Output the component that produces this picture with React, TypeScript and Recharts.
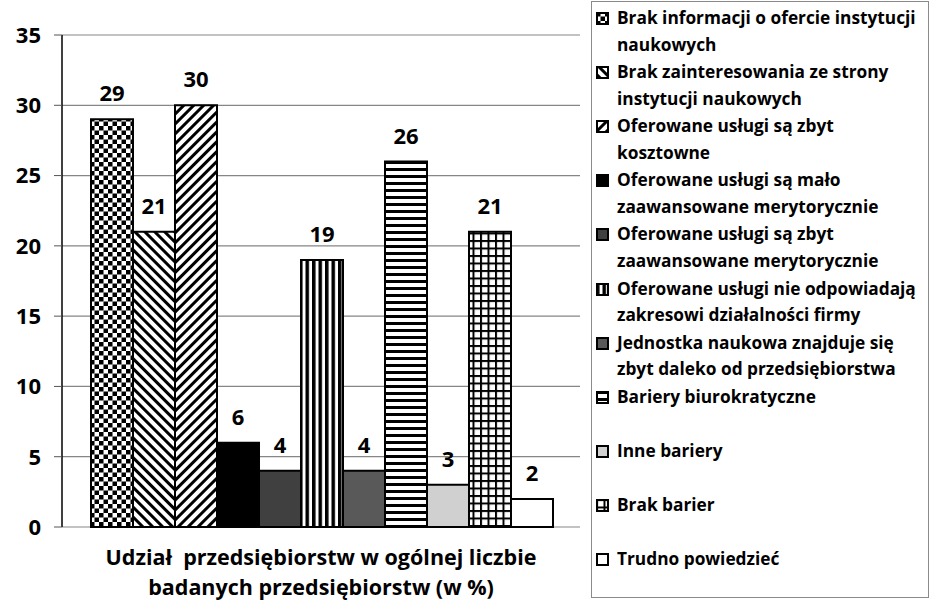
import React from "react";
import {
  BarChart,
  Bar,
  XAxis,
  YAxis,
  CartesianGrid,
  LabelList,
} from "recharts";

// Dane
const categories = ["Udział przedsiębiorstw w ogólnej liczbie badanych przedsiębiorstw (w %)"];
const seriesNames = [
  "Brak informacji o ofercie instytucji\nnaukowych",
  "Brak zainteresowania ze strony\ninstytucji naukowych",
  "Oferowane usługi są zbyt\nkosztowne",
  "Oferowane usługi są mało\nzaawansowane merytorycznie",
  "Oferowane usługi są zbyt\nzaawansowane merytorycznie",
  "Oferowane usługi nie odpowiadają\nzakresowi działalności firmy",
  "Jednostka naukowa znajduje się\nzbyt daleko od przedsiębiorstwa",
  "Bariery biurokratyczne",
  "Inne bariery",
  "Brak barier",
  "Trudno powiedzieć",
];
const values = [29, 21, 30, 6, 4, 19, 4, 26, 3, 21, 2];
const yTicks = [0, 5, 10, 15, 20, 25, 30, 35];
const titleLines = ["Udział  przedsiębiorstw w ogólnej liczbie", "badanych przedsiębiorstw (w %)"];

// wypełnienia (wzory SVG + szarości)
const FILLS = [
  "url(#pChecker)",
  "url(#pDiagDown)",
  "url(#pDiagUp)",
  "#000000",
  "#404040",
  "url(#pVert)",
  "#595959",
  "url(#pHoriz)",
  "#d0d0d0",
  "url(#pGrid)",
  "#ffffff",
];

const FONT = "'Open Sans', sans-serif";

const row: Record<string, string | number> = { name: categories[0] };
values.forEach((v, i) => {
  row["s" + i] = v;
});
const data = [row];

function Patterns() {
  return (
    <defs>
      <pattern id="pChecker" patternUnits="userSpaceOnUse" width="9" height="9">
        <rect width="9" height="9" fill="#fff" />
        <rect width="4.5" height="4.5" fill="#000" />
        <rect x="4.5" y="4.5" width="4.5" height="4.5" fill="#000" />
      </pattern>
      <pattern id="pDiagDown" patternUnits="userSpaceOnUse" width="7" height="7" patternTransform="rotate(-45)">
        <rect width="7" height="7" fill="#fff" />
        <rect width="3" height="7" fill="#000" />
      </pattern>
      <pattern id="pDiagUp" patternUnits="userSpaceOnUse" width="7" height="7" patternTransform="rotate(45)">
        <rect width="7" height="7" fill="#fff" />
        <rect width="3" height="7" fill="#000" />
      </pattern>
      <pattern id="pVert" patternUnits="userSpaceOnUse" width="6.5" height="6">
        <rect width="6.5" height="6" fill="#fff" />
        <rect width="3.5" height="6" fill="#000" />
      </pattern>
      <pattern id="pHoriz" patternUnits="userSpaceOnUse" width="6" height="7">
        <rect width="6" height="7" fill="#fff" />
        <rect width="6" height="3" fill="#000" />
      </pattern>
      <pattern id="pGrid" patternUnits="userSpaceOnUse" width="7.5" height="7.5">
        <rect width="7.5" height="7.5" fill="#fff" />
        <rect width="2" height="7.5" fill="#000" />
        <rect width="7.5" height="2" fill="#000" />
      </pattern>
    </defs>
  );
}

function LegendBox() {
  return (
    <div
      style={{
        position: "absolute",
        left: 591,
        top: 1,
        width: 336,
        height: 595,
        border: "1px solid #8a8a8a",
        fontFamily: FONT,
        fontWeight: 700,
        fontSize: 17.3,
        color: "#000",
      }}
    >
      {seriesNames.map((name, i) => (
        <div
          key={name}
          style={{
            position: "absolute",
            left: 4,
            top: 3 + i * 54.1,
            width: 334,
            display: "flex",
            alignItems: "flex-start",
          }}
        >
          <svg width={13} height={13} style={{ marginTop: 7, marginRight: 8, flex: "none" }}>
            <rect x={1} y={1} width={11} height={11} fill={FILLS[i]} stroke="#000" strokeWidth={2} />
          </svg>
          <div style={{ lineHeight: "26.5px", whiteSpace: "pre" }}>{name}</div>
        </div>
      ))}
    </div>
  );
}

export default function App() {
  return (
    <div
      style={{
        position: "absolute",
        left: 0,
        top: 0,
        width: 930,
        height: 608,
        background: "#fff",
        overflow: "hidden",
      }}
    >
      <BarChart
        width={590}
        height={608}
        data={data}
        margin={{ top: 35, right: 10, bottom: 81, left: 8 }}
        barCategoryGap={29}
        barGap={0}
      >
        <Patterns />
        <CartesianGrid horizontal vertical={false} stroke="#868686" strokeWidth={1.2} />
        <XAxis dataKey="name" tick={false} height={0} axisLine={{ stroke: "#000", strokeWidth: 1.5 }} tickLine={false} />
        <YAxis
          domain={[0, 35]}
          ticks={yTicks}
          width={54}
          tickSize={8}
          tickMargin={13}
          interval={0}
          axisLine={{ stroke: "#000", strokeWidth: 1.5 }}
          tickLine={{ stroke: "#555" }}
          tick={{ fontFamily: FONT, fontSize: 22, fontWeight: 700, fill: "#000" }}
        />
        <YAxis
          yAxisId="border"
          orientation="right"
          domain={[0, 35]}
          width={0}
          tick={false}
          tickLine={false}
          axisLine={{ stroke: "#868686", strokeWidth: 1.2 }}
        />
        {seriesNames.map((name, i) => (
          <Bar
            key={name}
            dataKey={"s" + i}
            name={name.replace("\n", " ")}
            fill={FILLS[i]}
            stroke="#000"
            strokeWidth={2}
            isAnimationActive={false}
          >
            <LabelList
              dataKey={"s" + i}
              position="top"
              offset={18}
              style={{ fontFamily: FONT, fontSize: 22, fontWeight: 700, fill: "#000" }}
            />
          </Bar>
        ))}
      </BarChart>
      <div
        style={{
          position: "absolute",
          left: 62,
          top: 542,
          width: 518,
          textAlign: "center",
          fontFamily: FONT,
          fontWeight: 700,
          fontSize: 21.5,
          lineHeight: "30px",
          color: "#000",
          whiteSpace: "pre",
        }}
      >
        {titleLines.join("\n")}
      </div>
      <LegendBox />
    </div>
  );
}
